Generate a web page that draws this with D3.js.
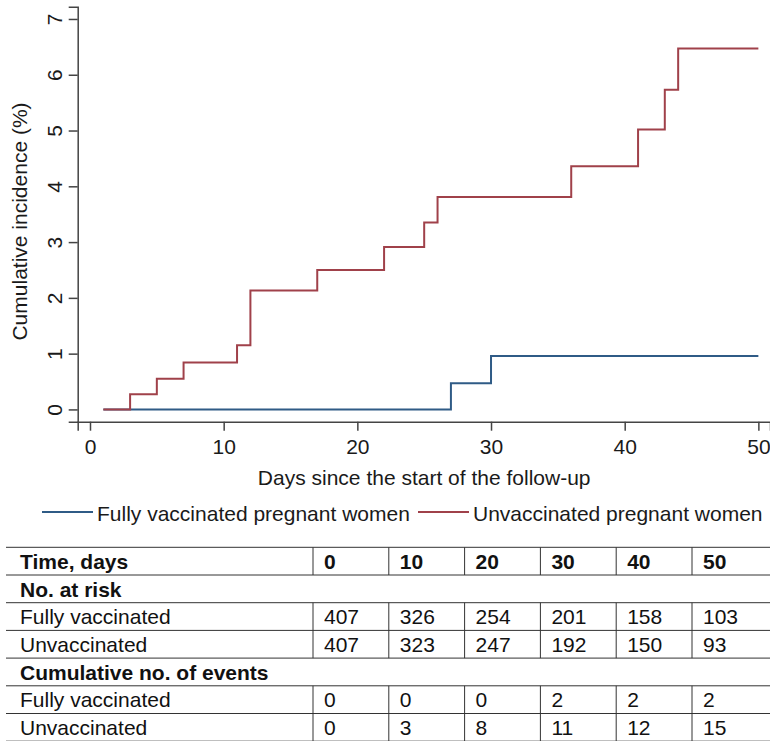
<!DOCTYPE html>
<html>
<head>
<meta charset="utf-8">
<script src="https://cdn.jsdelivr.net/npm/d3@7"></script>
<style>
  body { margin: 0; background: #fff; }
  svg text { font-family: "Liberation Sans", Arial, Helvetica, sans-serif; }
</style>
</head>
<body>
<script>
// step data (% cumulative incidence)
var daysUnvac = [1, 3, 5, 7, 11, 12, 17, 22, 25, 26, 36, 41, 43, 44, 50];
var incUnvac  = [0, 0.27, 0.55, 0.84, 1.15, 2.13, 2.50, 2.91, 3.35, 3.81, 4.36, 5.02, 5.73, 6.47, 6.47];
var daysVac = [1, 27, 30, 50];
var incVac  = [0, 0.47, 0.96, 0.96];

var xTicks = [0, 10, 20, 30, 40, 50];
var yTicks = [0, 1, 2, 3, 4, 5, 6, 7];

var seriesNames = ["Fully vaccinated pregnant women", "Unvaccinated pregnant women"];
var seriesColors = ["#2f5b86", "#a0414a"];

// risk table
var timeCols    = [0, 10, 20, 30, 40, 50];
var atRiskVac   = [407, 326, 254, 201, 158, 103];
var atRiskUnvac = [407, 323, 247, 192, 150, 93];
var eventsVac   = [0, 0, 0, 2, 2, 2];
var eventsUnvac = [0, 3, 8, 11, 12, 15];

var width = 770, height = 741;
var axisColor = "#444", textColor = "#1a1a1a";

var svg = d3.select("body").append("svg")
            .attr("width", width)
            .attr("height", height);

var xMin = -0.92, xMax = 50.87, yMin = -0.22, yMax = 7.22;
var x = d3.scaleLinear().domain([xMin, xMax]).range([77.7, 770]);
var y = d3.scaleLinear().domain([yMin, yMax]).range([421.7, 6.7]);

// axes
var xAxis = svg.append("g")
   .attr("transform", "translate(0," + y(yMin) + ")")
   .call(d3.axisBottom(x).tickValues(xTicks).tickSize(9).tickPadding(8).tickFormat(d3.format("d")));
var yAxis = svg.append("g")
   .attr("transform", "translate(" + x(xMin) + ",0)")
   .call(d3.axisLeft(y).tickValues(yTicks).tickSize(9).tickFormat(d3.format("d")));

[xAxis, yAxis].forEach(function(a) {
    a.select(".domain").attr("stroke", axisColor).attr("stroke-width", 1.5);
    a.selectAll(".tick line").attr("stroke", axisColor).attr("stroke-width", 1.5);
    a.selectAll(".tick text").attr("fill", textColor)
     .style("font-size", "21px");
});

// stata-style rotated y tick labels
yAxis.selectAll(".tick text")
     .attr("x", null).attr("dy", null)
     .attr("text-anchor", "middle")
     .attr("transform", "translate(-15.7,0) rotate(-90)");

// axis titles
svg.append("text")
   .attr("transform", "translate(27," + 221.5 + ") rotate(-90)")
   .attr("text-anchor", "middle")
   .attr("fill", textColor)
   .style("font-size", "21px")
   .text("Cumulative incidence (%)");

svg.append("text")
   .attr("x", x(25))
   .attr("y", 485)
   .attr("text-anchor", "middle")
   .attr("fill", textColor)
   .style("font-size", "21px")
   .text("Days since the start of the follow-up");

// curves
var line = d3.line()
    .x(function(d) { return x(d[0]); })
    .y(function(d) { return y(d[1]); })
    .curve(d3.curveStepAfter);

var curves = [d3.zip(daysVac, incVac), d3.zip(daysUnvac, incUnvac)];
svg.append("g")
   .selectAll("path.curve")
   .data(curves)
   .enter()
     .append("path")
     .classed("curve", true)
     .attr("d", line)
     .attr("fill", "none")
     .attr("stroke", function(d, i) { return seriesColors[i]; })
     .attr("stroke-width", 2);

// legend
var legendX = [42, 418];
var legend = svg.append("g")
   .selectAll("g.leg")
   .data(seriesNames)
   .enter()
     .append("g")
     .classed("leg", true)
     .attr("transform", function(d, i) { return "translate(" + legendX[i] + ",512)"; });
legend.append("line")
      .attr("x1", 0).attr("x2", 51)
      .attr("stroke", function(d, i) { return seriesColors[i]; })
      .attr("stroke-width", 2);
legend.append("text")
      .attr("x", 55).attr("y", 8.5)
      .attr("fill", textColor)
      .style("font-size", "21px")
      .text(function(d) { return d; });

// table
var rowH = 27.7, tableTop = 547.3, colLeft = 313, colW = 75.8;
var rows = [
    { label: "Time, days", vals: timeCols, bold: true },
    { label: "No. at risk", vals: null, bold: true },
    { label: "Fully vaccinated", vals: atRiskVac },
    { label: "Unvaccinated", vals: atRiskUnvac },
    { label: "Cumulative no. of events", vals: null, bold: true },
    { label: "Fully vaccinated", vals: eventsVac },
    { label: "Unvaccinated", vals: eventsUnvac }
];

var table = svg.append("g").classed("table", true);

// horizontal rules
table.selectAll("line.hrule")
     .data(d3.range(rows.length + 1))
     .enter()
       .append("line")
       .classed("hrule", true)
       .attr("x1", 6).attr("x2", width)
       .attr("y1", function(i) { return tableTop + i * rowH; })
       .attr("y2", function(i) { return tableTop + i * rowH; })
       .attr("stroke", "#333").attr("stroke-width", 1);

rows.forEach(function(r, ri) {
    var top = tableTop + ri * rowH;
    var g = table.append("g");
    g.append("text")
     .attr("x", 20).attr("y", top + 21.5)
     .attr("fill", "#111")
     .style("font-size", "21px")
     .style("font-weight", r.bold ? "bold" : "normal")
     .text(r.label);
    if (!r.vals) return;
    g.selectAll("line.vrule")
     .data(r.vals)
     .enter()
       .append("line")
       .classed("vrule", true)
       .attr("x1", function(d, i) { return colLeft + i * colW; })
       .attr("x2", function(d, i) { return colLeft + i * colW; })
       .attr("y1", top).attr("y2", top + rowH)
       .attr("stroke", "#333").attr("stroke-width", 1);
    g.selectAll("text.val")
     .data(r.vals)
     .enter()
       .append("text")
       .classed("val", true)
       .attr("x", function(d, i) { return colLeft + i * colW + 11; })
       .attr("y", top + 21.5)
       .attr("fill", "#111")
       .style("font-size", "21px")
       .style("font-weight", r.bold ? "bold" : "normal")
       .text(function(d) { return d; });
});
</script>
</body>
</html>
